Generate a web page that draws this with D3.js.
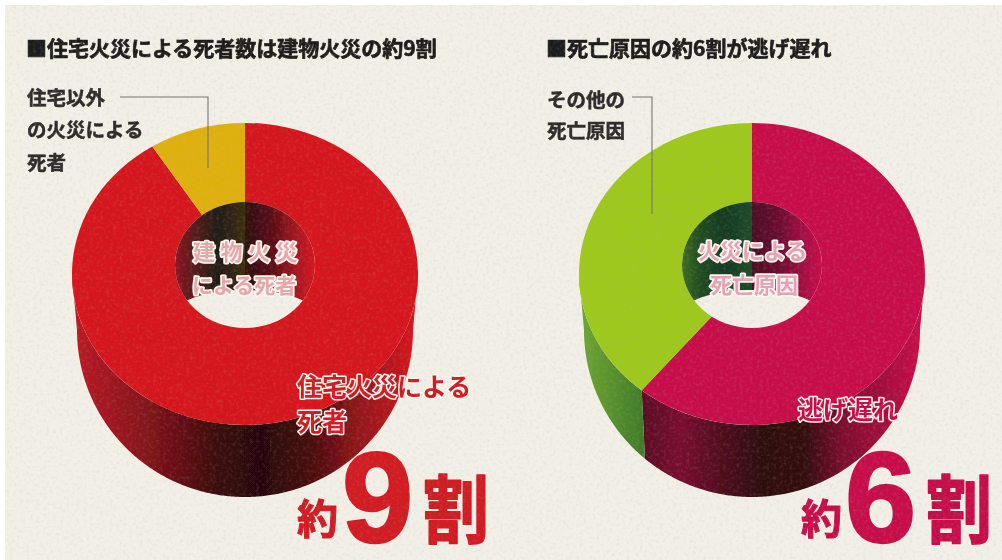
<!DOCTYPE html>
<html><head><meta charset="utf-8">
<script src="https://cdn.jsdelivr.net/npm/d3@7"></script>
<style>html,body{margin:0;padding:0;background:#fff;overflow:hidden}svg{display:block}
text{font-family:"Noto Sans CJK JP",sans-serif;font-weight:700}</style>
</head><body><svg id="c" width="1002" height="560"></svg>
<script>
// data
const leftCategories = ["住宅火災による死者", "住宅以外の火災による死者"];
const leftValues = [91, 9];
const rightCategories = ["逃げ遅れ", "その他の死亡原因"];
const rightValues = [61, 39];
const titles = ["■住宅火災による死者数は建物火災の約9割", "■死亡原因の約6割が逃げ遅れ"];

const BG = "#f1efe6", RED = "#d5161f", YEL = "#dfb011", LIME = "#9dc81b", CRIM = "#c7104a";
const W = 1002, H = 560;
const svg = d3.select("#c");
const defs = svg.append("defs");
defs.append("filter").attr("id", "soft").attr("x", 0).attr("y", 0).attr("width", 1).attr("height", 1)
  .append("feGaussianBlur").attr("stdDeviation", 0.6);
const nf = defs.append("filter").attr("id", "noise").attr("x", 0).attr("y", 0).attr("width", 1).attr("height", 1);
nf.append("feTurbulence").attr("type", "fractalNoise").attr("baseFrequency", 0.3).attr("numOctaves", 3).attr("seed", 4);
nf.append("feColorMatrix").attr("type", "matrix").attr("values", "0 0 0 0 0.5  0 0 0 0 0.47  0 0 0 0 0.4  0 0 0 1.6 -0.75");

function grad(id, x0, x1, stops) {
  const g = defs.append("linearGradient").attr("id", id).attr("gradientUnits", "userSpaceOnUse")
    .attr("x1", x0).attr("x2", x1).attr("y1", 0).attr("y2", 0);
  stops.forEach(s => g.append("stop").attr("offset", s[0]).attr("stop-color", s[1]));
  return `url(#${id})`;
}

const root = svg.append("g").attr("filter", "url(#soft)");
root.append("rect").attr("x", 5).attr("y", 5).attr("width", W - 5).attr("height", H - 5).attr("fill", BG);

const RX = 173, RY = 151, BRX = 168, BRY = 167, BDY = 56, HRX = 70, HRY = 63, HOLE_DY = -9;
const pie = d3.pie().sort(null).startAngle(0).endAngle(2 * Math.PI);

function donut(id, cx, cy, values, colors, sideFills, wallStops) {
  const g = root.append("g");
  const arcs = pie(values);
  // extruded front side, from the top rim to the lower rim
  const frontA = Math.PI / 2, frontB = 3 * Math.PI / 2;
  const side = d3.area()
    .x0(a => cx + RX * Math.sin(a))
    .x1(a => cx + BRX * Math.sin(a))
    .y0(a => cy - RY * Math.cos(a))
    .y1(a => cy + BDY - BRY * Math.cos(a));
  arcs.forEach((d, i) => {
    const a0 = Math.max(d.startAngle, frontA), a1 = Math.min(d.endAngle, frontB);
    if (a1 <= a0) return;
    const pts = d3.range(a0, a1, 0.01).concat([a1]);
    g.append("path").attr("d", side(pts)).attr("fill", sideFills[i]);
  });
  // top face
  const arc = d3.arc().innerRadius(0).outerRadius(RX);
  const top = g.append("g").attr("transform", `translate(${cx},${cy}) scale(1,${RY / RX})`);
  top.selectAll("path").data(arcs).join("path").attr("d", arc).attr("fill", (d, i) => colors[i]);
  // hole
  const hcy = cy + HOLE_DY;
  g.append("ellipse").attr("cx", cx).attr("cy", hcy).attr("rx", HRX).attr("ry", HRY).attr("fill", BG);
  defs.append("clipPath").attr("id", "hole" + id).append("ellipse")
    .attr("cx", cx).attr("cy", hcy).attr("rx", HRX).attr("ry", HRY);
  const wall = d3.area()
    .x(a => cx + HRX * Math.sin(a))
    .y0(a => hcy - HRY * Math.cos(a) - 1)
    .y1(a => 314 - 24 * Math.cos(a));
  const wa = d3.range(-Math.PI / 2, Math.PI / 2, 0.02).concat([Math.PI / 2]);
  g.append("path").attr("clip-path", `url(#hole${id})`).attr("d", wall(wa))
    .attr("fill", grad("wall" + id, cx - HRX, cx + HRX, wallStops));
}

donut("L", 245, 274, leftValues, [RED, YEL],
  [grad("sL", 77, 413, [[0, "#b81a24"], [.1, "#a01820"], [.28, "#6e1016"], [.42, "#3a080c"], [.55, "#270608"], [.7, "#4a0a0e"], [.82, "#8a1419"], [.92, "#b0171e"], [1, "#d5161f"]])],
  [[0, "#8c1822"], [.13, "#5a1a1c"], [.3, "#231a14"], [.5, "#3d2e10"], [.5, "#2c1210"], [.7, "#5e0f16"], [.88, "#ac1620"], [1, RED]]);

donut("R", 752, 274, rightValues, [CRIM, LIME],
  [grad("sR", 645, 920, [[0, "#5c0b26"], [.13, "#7a0e30"], [.3, "#4a0a1c"], [.42, "#2e0710"], [.58, "#33070f"], [.72, "#7c0e2e"], [.87, "#a5103e"], [1, CRIM]]),
   grad("sG", 582, 645, [[0, "#6fa530"], [.5, "#56902e"], [1, "#3f7a28"]])],
  [[0, "#3e6e22"], [.12, "#214e24"], [.3, "#143a22"], [.5, "#1f4c2a"], [.5, "#4c0f26"], [.7, "#6c0c30"], [.88, "#aa0e44"], [1, CRIM]]);

// leader lines
const leader = d3.line();
[[[120, 97], [208, 97], [208, 168]], [[632, 97], [652, 97], [652, 214]]].forEach(p =>
  root.append("path").attr("d", leader(p)).attr("fill", "none").attr("stroke", "#77756f").attr("stroke-width", 1.1));

function label(s, x, y, size, fill, opt = {}) {
  const t = root.append("text").text(s).attr("x", x).attr("y", y).attr("font-size", size).attr("fill", fill);
  if (opt.stroke) t.attr("stroke", opt.stroke).attr("stroke-width", opt.sw).attr("paint-order", "stroke").attr("stroke-linejoin", "round");
  if (opt.ls) t.style("letter-spacing", opt.ls + "px");
  if (opt.family) t.style("font-family", opt.family);
  if (opt.sy) t.attr("y", 0).attr("x", 0).attr("transform", `translate(${x},${y}) scale(1,${opt.sy})`);
  return t;
}

const INK = "#1e1c1a", INK2 = "#2e2c2a";
label(titles[0], 26, 56, 21, INK, { stroke: INK, sw: 0.7 });
label(titles[1], 546, 56, 21, INK, { stroke: INK, sw: 0.7 });

const thin = { stroke: INK2, sw: 0.5 };
label("住宅以外", 27, 105, 19.5, INK2, thin);
label("の火災による", 27, 137, 19.5, INK2, thin);
label("死者", 27, 170, 19.5, INK2, thin);
label("その他の", 547, 107, 19.5, INK2, thin);
label("死亡原因", 547, 138, 19.5, INK2, thin);

const halo = { stroke: "#fbf6f0", sw: 3.6 };
const inner = "#e6a6ac", inner2 = "#e6a2b4";
label("建物火災", 193, 260, 22, inner, { ...halo, ls: 5.5 });
label("による死者", 192, 293, 21, inner, halo);
label("火災による", 698, 259, 22, inner2, halo);
label("死亡原因", 710, 293, 22, inner2, halo);

label("住宅火災による", 297, 396, 25, "#cf1a24", { stroke: "#fbf6f0", sw: 3 });
label("死者", 297, 431, 25, "#cf1a24", { stroke: "#fbf6f0", sw: 3 });
label(rightCategories[0], 798, 419, 25, CRIM, { stroke: "#fbf6f0", sw: 3 });

const bigL = "#d01b24", bigR = CRIM;
label("約", 297, 534, 41, bigL, { stroke: bigL, sw: 1 });
label("9", 342, 542, 128, bigL, { stroke: bigL, sw: 2.5, family: '"Liberation Sans"' });
label("割", 423, 537, 66, bigL, { stroke: bigL, sw: 1.6, sy: 1.12 });
label("約", 801, 534, 41, bigR, { stroke: bigR, sw: 1 });
label("6", 845, 542, 128, bigR, { stroke: bigR, sw: 2.5, family: '"Liberation Sans"' });
label("割", 926, 537, 66, bigR, { stroke: bigR, sw: 1.6, sy: 1.12 });

svg.append("rect").attr("x", 5).attr("y", 5).attr("width", W - 5).attr("height", H - 5)
  .attr("filter", "url(#noise)").attr("opacity", 0.25);
</script></body></html>
